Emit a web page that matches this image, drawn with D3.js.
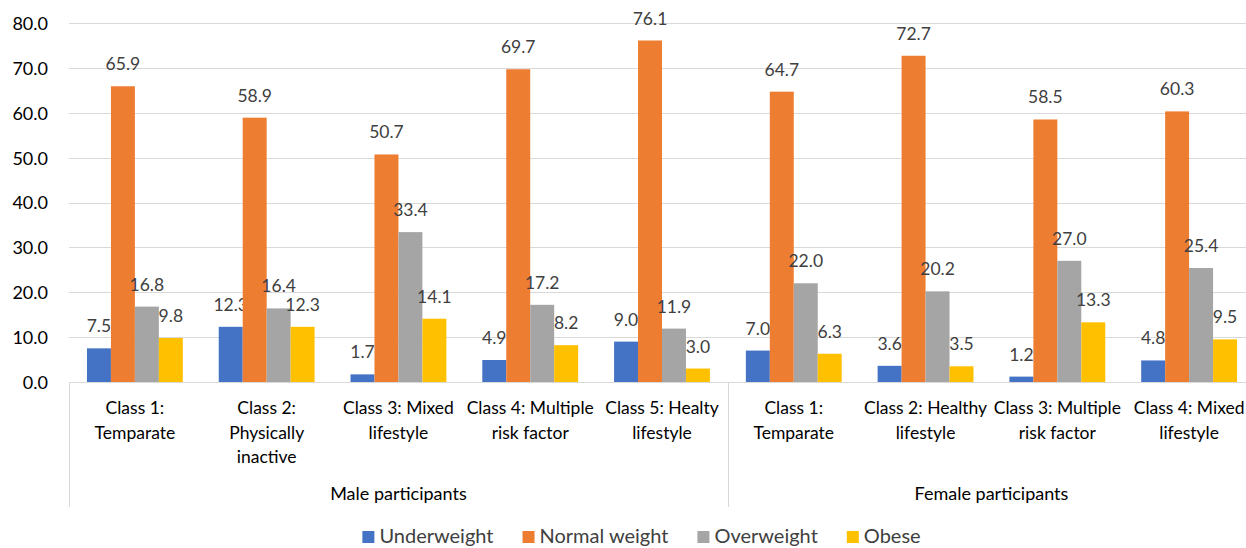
<!DOCTYPE html>
<html><head><meta charset="utf-8">
<script src="https://cdn.jsdelivr.net/npm/d3@7"></script>
<style>
html,body{margin:0;padding:0;background:#fff;overflow:hidden}
svg{display:block;font-family:Lato,"Open Sans",sans-serif}
</style></head>
<body>
<svg id="c" width="1246" height="548"></svg>
<script>
const categories = [
  "Class 1: Temparate","Class 2: Physically inactive","Class 3: Mixed lifestyle",
  "Class 4: Multiple risk factor","Class 5: Healty lifestyle",
  "Class 1: Temparate","Class 2: Healthy lifestyle","Class 3: Multiple risk factor","Class 4: Mixed lifestyle"
];
const categoryLines = [
  ["Class 1:","Temparate"],["Class 2:","Physically","inactive"],["Class 3: Mixed","lifestyle"],
  ["Class 4: Multiple","risk factor"],["Class 5: Healty","lifestyle"],
  ["Class 1:","Temparate"],["Class 2: Healthy","lifestyle"],["Class 3: Multiple","risk factor"],["Class 4: Mixed","lifestyle"]
];
const groups = ["Male participants","Female participants"];
const groupSizes = [5,4];
const series = ["Underweight","Normal weight","Overweight","Obese"];
const colors = ["#4472C4","#ED7D31","#A5A5A5","#FFC000"];
const underweight = [7.5,12.3,1.7,4.9,9.0,7.0,3.6,1.2,4.8];
const normalWeight = [65.9,58.9,50.7,69.7,76.1,64.7,72.7,58.5,60.3];
const overweight = [16.8,16.4,33.4,17.2,11.9,22.0,20.2,27.0,25.4];
const obese = [9.8,12.3,14.1,8.2,3.0,6.3,3.5,13.3,9.5];
const yTicks = [0,10,20,30,40,50,60,70,80];

const values = [underweight, normalWeight, overweight, obese];
const svg = d3.select("#c");
const pLeft = 69, pRight = 1255, pTop = 23, pBottom = 382;

const y = d3.scaleLinear().domain([0,80]).range([pBottom, pTop]);
const x0 = d3.scaleBand().domain(d3.range(categories.length)).range([pLeft, pRight]).padding(0);
const bw = x0.bandwidth();
const x1 = d3.scaleBand().domain(series).range([bw*0.75/5.5, bw - bw*0.75/5.5]).padding(0);

// gridlines
svg.append("g").selectAll("line").data(yTicks.filter(d=>d>0)).join("line")
  .attr("x1", pLeft).attr("x2", pRight)
  .attr("y1", d=>Math.round(y(d))+0.5).attr("y2", d=>Math.round(y(d))+0.5)
  .attr("stroke","#D9D9D9").attr("stroke-width",1);

// y axis labels
const yAxis = d3.axisLeft(y).tickValues(yTicks).tickFormat(d3.format(".1f")).tickSize(0).tickPadding(0);
const ya = svg.append("g").attr("transform",`translate(48,0)`).call(yAxis);
ya.select(".domain").remove();
ya.selectAll("text").attr("font-size",18).attr("fill","#000").attr("font-family","Lato").attr("dy","0.36em");

// bars
series.forEach((s,si)=>{
  const g = svg.append("g");
  g.selectAll("rect").data(values[si]).join("rect")
    .attr("x",(d,i)=>x0(i)+x1(s))
    .attr("width",x1.bandwidth())
    .attr("y",d=>y(d))
    .attr("height",d=>y(0)-y(d))
    .attr("fill",colors[si]);
  g.selectAll("text").data(values[si]).join("text")
    .attr("x",(d,i)=>x0(i)+x1(s)+x1.bandwidth()/2)
    .attr("y",d=>y(d)-16)
    .attr("text-anchor","middle")
    .attr("font-size",17.5).attr("fill","#404040")
    .text(d=>d3.format(".1f")(d));
});

// category axis line
svg.append("line").attr("x1",pLeft).attr("x2",pRight).attr("y1",pBottom+0.5).attr("y2",pBottom+0.5)
  .attr("stroke","#D9D9D9");

// group separators
let acc = 0;
const seps = [0];
groupSizes.forEach(n=>{acc+=n; seps.push(acc);});
svg.append("g").selectAll("line").data(seps).join("line")
  .attr("x1",i=>Math.round(i===categories.length? pRight : x0(i))+0.5)
  .attr("x2",i=>Math.round(i===categories.length? pRight : x0(i))+0.5)
  .attr("y1",pBottom).attr("y2",507).attr("stroke","#D9D9D9");

// category labels
const cl = svg.append("g");
categoryLines.forEach((lines,i)=>{
  const t = cl.append("text").attr("text-anchor","middle").attr("font-size",17.5).attr("fill","#000");
  lines.forEach((ln,k)=>{
    t.append("tspan").attr("x",x0(i)+bw/2).attr("y",414+k*24.5).text(ln);
  });
});

// group labels
let start = 0;
groups.forEach((gname,gi)=>{
  const a = x0(start), b = start+groupSizes[gi] >= categories.length ? pRight : x0(start+groupSizes[gi]);
  svg.append("text").attr("x",(a+b)/2).attr("y",500).attr("text-anchor","middle")
    .attr("font-size",18).attr("fill","#000").text(gname);
  start += groupSizes[gi];
});

// legend
const lg = svg.append("g");
const items = [];
series.forEach((s,i)=>{
  const it = lg.append("g");
  it.append("rect").attr("x",0).attr("y",-12).attr("width",12).attr("height",12).attr("fill",colors[i]);
  const tx = it.append("text").attr("x",17).attr("y",0).attr("font-size",20).attr("fill","#404040").text(s);
  items.push({g:it,w:17+tx.node().getComputedTextLength()});
});
const gap = 29;
const total = d3.sum(items,d=>d.w)+gap*(items.length-1);
let lx = 641.5 - total/2;
items.forEach(d=>{ d.g.attr("transform",`translate(${lx},543)`); lx += d.w+gap; });
</script>
</body></html>
